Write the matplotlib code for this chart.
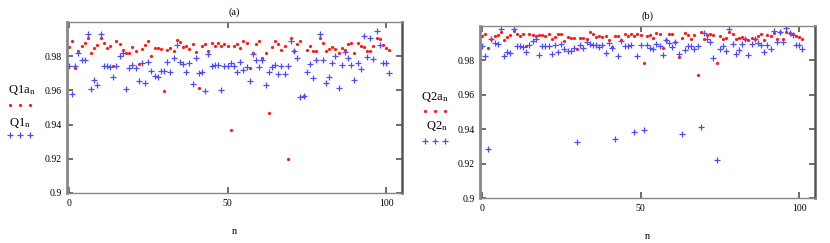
import matplotlib
matplotlib.use("Agg")
import matplotlib.pyplot as plt
from matplotlib.lines import Line2D
import numpy as np

plt.rcParams['font.family'] = ['Liberation Serif', 'DejaVu Serif']
plt.rcParams['mathtext.fontset'] = 'stix'

n = list(range(102))

Q1a = [.9855, .989, .9733, .9832, .9861, .9876, .9909, .9817, .9848, .9865,
       .9909, .988, .9846, .9861, .9741, .9886, .9874, .9836, .9819, .9817,
       .9851, .9829, .9756, .9842, .9865, .989, .9804, .9848, .9846, .9844,
       .9594, .9836, .9846, .9829, .9897, .9882, .9851, .9859, .9842, .987,
       .9825, .9615, .9859, .987, .9832, .988, .9861, .9878, .9859, .987,
       .9861, .9366, .9859, .987, .9846, .989, .9876, .9733, .9817, .9874,
       .9886, .979, .9817, .9469, .9851, .989, .987, .9836, .9861, .9198,
       .9905, .9832, .987, .989, .9566, .9836, .9861, .9832, .9832, .9909,
       .988, .9832, .9842, .9851, .9842, .9817, .9848, .9836, .987, .9878,
       .9817, .988, .9861, .9851, .9832, .9829, .9861, .9909, .9899, .9865,
       .9848, .9836]

Q1 = [.9741, .9577, .9745, .9817, .9775, .9779, .9931, .9608, .9661, .9634,
      .9928, .9745, .9741, .9737, .9676, .9741, .9802, .9817, .9611, .973,
      .9749, .973, .9657, .976, .9642, .9768, .9714, .9684, .9676, .9714,
      .9715, .9768, .971, .979, .9867, .9764, .9756, .9707, .976, .9636,
      .979, .9703, .9705, .9595, .9813, .9745, .9749, .9749, .9604, .9741,
      .9741, .976, .9745, .9705, .9768, .9721, .9735, .9655, .9815, .978,
      .9735, .978, .963, .971, .9735, .975, .9695, .9745, .9695, .9745,
      .9888, .983, .979, .9563, .9565, .971, .9752, .9672, .9778, .993,
      .9775, .9642, .968, .976, .9804, .9613, .975, .9823, .979, .9747,
      .9658, .9762, .9725, .992, .9795, .9905, .9785, .9945, .9866, .9762,
      .9762, .9703]

Q2a = [.9939, .9955, .9873, .9927, .9943, .9947, .9963, .9916, .9935, .9947,
       .9971, .9951, .9943, .9951, .9882, .9955, .9947, .9943, .9947, .9947,
       .9939, .9951, .9927, .9935, .9951, .9955, .9912, .9935, .9931, .9931,
       .9869, .9931, .9931, .9923, .9967, .9955, .9935, .9939, .9935, .9943,
       .992, .9878, .9943, .9943, .992, .9951, .9943, .9955, .9943, .9951,
       .9945, .9786, .9943, .9947, .9931, .9957, .9951, .9874, .992, .9951,
       .9951, .9908, .9822, .9931, .9959, .9947, .9923, .9947, .9716, .9967,
       .9923, .9947, .9955, .9947, .9786, .9939, .9927, .9931, .9963, .9951,
       .9927, .9931, .9935, .9927, .9916, .9931, .9927, .9943, .9951, .9916,
       .9947, .9943, .9959, .9927, .9967, .9927, .9963, .9959, .9951, .9939,
       .9935, .9927]

Q2 = [.9884, .9824, .9286, .9927, .9904, .9894, .998, .9825, .9849, .9843,
      .998, .9884, .9884, .9878, .9849, .9888, .9912, .9923, .9833, .9882,
      .9882, .9882, .9839, .9888, .9849, .9894, .9865, .9857, .9857, .9875,
      .9326, .9888, .9875, .9908, .9898, .9888, .9888, .9878, .9888, .9843,
      .9904, .9875, .9343, .9825, .9912, .9882, .9884, .9888, .9383, .9825,
      .9888, .9393, .9888, .9875, .9869, .9894, .9882, .9829, .9918, .9902,
      .9878, .9908, .9839, .9373, .9859, .9882, .9882, .9865, .9882, .9414,
      .9957, .9923, .9908, .9814, .9222, .9869, .9882, .9853, .998, .9898,
      .9839, .9859, .9898, .9923, .9829, .9894, .9923, .9904, .9888, .9849,
      .9888, .9869, .9973, .9908, .9967, .9908, .9986, .9957, .9947, .9888,
      .9888, .9865]

yticks = [0.9, 0.92, 0.94, 0.96, 0.98]
ytick_labels = ['0.9', '0.92', '0.94', '0.96', '0.98']
xticks = [0, 50, 100]

RED = '#ff1a1a'
BLUE = '#4d4dff'
DOT_MS = 2.3
PLUS_MS = 4.8

W, H = 830, 243
fig = plt.figure(figsize=(W / 100, H / 100), dpi=100)

def px_axes(l, t, r, b):
    return fig.add_axes([l / W, 1 - b / H, (r - l) / W, (b - t) / H])

def style(ax):
    ax.set_xlim(-0.6, 105)
    ax.set_ylim(0.9, 1.0)
    ax.set_yticks(yticks)
    ax.set_yticklabels(ytick_labels)
    ax.set_xticks(xticks)
    ax.tick_params(direction='in', length=4, width=1.2, color='#555555',
                   labelsize=7, top=True, right=True, pad=4)
    for s in ['top', 'bottom']:
        ax.spines[s].set_color('#888888')
        ax.spines[s].set_linewidth(1.0)
    ax.spines['left'].set_color('#888888')
    ax.spines['left'].set_linewidth(2.0)
    ax.spines['right'].set_color('#555555')
    ax.spines['right'].set_linewidth(1.8)

def plot_panel(ax, red, blue):
    ax.plot(n, red, linestyle='none', marker='o', markersize=DOT_MS,
            color=RED, markeredgewidth=0)
    ax.plot(n, blue, linestyle='none', marker='+', markersize=PLUS_MS,
            color=BLUE, markeredgewidth=0.9)

ax1 = px_axes(67, 22, 402, 193)
style(ax1)
plot_panel(ax1, Q1a, Q1)
ax1.set_title('(a)', fontsize=7.5, pad=5)
ax1.set_xlabel('n', fontsize=7.5, labelpad=14)

ax2 = px_axes(480, 26, 815, 198)
style(ax2)
plot_panel(ax2, Q2a, Q2)
ax2.set_title('(b)', fontsize=7.5, pad=5)
ax2.set_xlabel('n', fontsize=7.5, labelpad=14)

def legend_block(x_text, y1, y_dots, y2, y_plus, xs, lab1, lab2, x_text2):
    fig.text(x_text / W, 1 - y1 / H, lab1, fontsize=9, va='center', ha='left')
    fig.add_artist(Line2D([x / W for x in xs], [1 - y_dots / H] * 3,
                          linestyle='none', marker='o', markersize=DOT_MS,
                          color=RED, markeredgewidth=0,
                          transform=fig.transFigure))
    fig.text(x_text2 / W, 1 - y2 / H, lab2, fontsize=9, va='center', ha='left')
    fig.add_artist(Line2D([x / W for x in xs], [1 - y_plus / H] * 3,
                          linestyle='none', marker='+', markersize=PLUS_MS,
                          color=BLUE, markeredgewidth=0.9,
                          transform=fig.transFigure))

legend_block(8, 90, 105, 123, 135, [10, 20, 30],
             r'Q1a$_{\mathrm{n}}$', r'Q1$_{\mathrm{n}}$', 9)
legend_block(421, 97, 111, 126, 141, [425, 435, 445],
             r'Q2a$_{\mathrm{n}}$', r'Q2$_{\mathrm{n}}$', 426)

fig.savefig('out.png', dpi=100)
